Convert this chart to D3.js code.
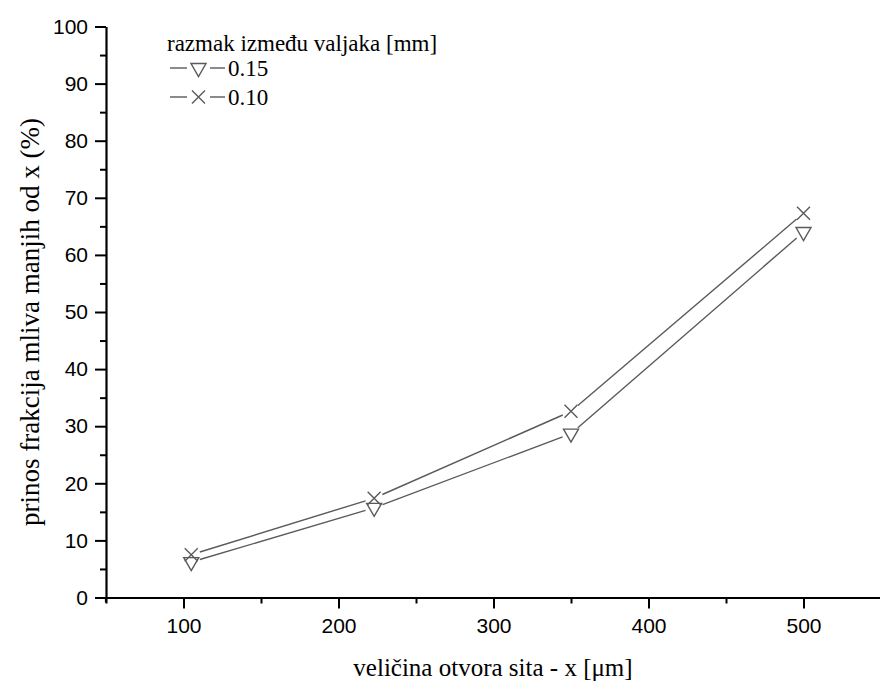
<!DOCTYPE html>
<html>
<head>
<meta charset="utf-8">
<script src="https://cdn.jsdelivr.net/npm/d3@7"></script>
<style>
  body { margin: 0; background: #fff; }
</style>
</head>
<body>
<div id="chart"></div>
<script>
// data
var xValues = [105, 223, 350, 500];
var y015 = [6.2, 15.7, 28.7, 64.0];
var y010 = [7.5, 17.4, 32.6, 67.3];
var seriesNames = ["0.15", "0.10"];
var xTicks = [100, 200, 300, 400, 500];
var yTicks = [0, 10, 20, 30, 40, 50, 60, 70, 80, 90, 100];

var width = 880, height = 683;
var margin = {left: 106, top: 26.5, right: -1, bottom: 85.5};
var grey = "#5a5a5a";
var serif = "'Liberation Serif', 'DejaVu Serif', serif";
var sans = "'Liberation Sans', Arial, sans-serif";

var svg = d3.select("#chart").append("svg")
  .attr("width", width)
  .attr("height", height);

var x = d3.scaleLinear().domain([50, 550]).range([margin.left, width - margin.right]);
var y = d3.scaleLinear().domain([0, 100]).range([height - margin.bottom, margin.top]);

// minor ticks first
var xMinor = d3.axisBottom(x).tickValues(d3.range(50, 551, 100)).tickSize(6).tickFormat("");
var yMinor = d3.axisLeft(y).tickValues(d3.range(5, 100, 10)).tickSize(6).tickFormat("");

svg.append("g").attr("transform", "translate(0," + y(0) + ")").call(xMinor)
  .call(function(g){ g.select(".domain").remove(); })
  .selectAll("line").attr("stroke-width", 2);
svg.append("g").attr("transform", "translate(" + x(50) + ",0)").call(yMinor)
  .call(function(g){ g.select(".domain").remove(); })
  .selectAll("line").attr("stroke-width", 2);

var xAxis = svg.append("g")
  .attr("transform", "translate(0," + y(0) + ")")
  .call(d3.axisBottom(x).tickValues(xTicks).tickSize(11).tickSizeOuter(0).tickPadding(10));
var yAxis = svg.append("g")
  .attr("transform", "translate(" + x(50) + ",0)")
  .call(d3.axisLeft(y).tickValues(yTicks).tickSize(11).tickSizeOuter(0).tickPadding(7));

[xAxis, yAxis].forEach(function(g){
  g.attr("font-family", sans).attr("font-size", 21);
  g.select(".domain").attr("stroke-width", 2.2);
  g.selectAll(".tick line").attr("stroke-width", 2);
  g.selectAll(".tick text").attr("fill", "#000");
});
// y axis reaches a little below the x axis
svg.append("line")
  .attr("x1", x(50)).attr("x2", x(50))
  .attr("y1", y(0)).attr("y2", y(0) + 5)
  .attr("stroke", "#000").attr("stroke-width", 2.2);

// axis titles
svg.append("text")
  .attr("font-family", serif).attr("font-size", 25)
  .attr("x", 493).attr("y", 676)
  .attr("text-anchor", "middle")
  .text("veličina otvora sita - x [μm]");
svg.append("text")
  .attr("font-family", serif).attr("font-size", 27)
  .attr("transform", "translate(39,322) rotate(-90)")
  .attr("text-anchor", "middle")
  .text("prinos frakcija mliva manjih od x (%)");

// lines with small gaps next to the markers
function drawSeries(vals, gap) {
  var pts = xValues.map(function(d, i){ return [x(d), y(vals[i])]; });
  for (var i = 0; i < pts.length - 1; i++) {
    var a = pts[i], b = pts[i + 1];
    var dx = b[0] - a[0], dy = b[1] - a[1];
    var len = Math.sqrt(dx * dx + dy * dy);
    var ux = dx / len, uy = dy / len;
    svg.append("line")
      .attr("x1", a[0] + ux * gap).attr("y1", a[1] + uy * gap)
      .attr("x2", b[0] - ux * gap).attr("y2", b[1] - uy * gap)
      .attr("stroke", grey).attr("stroke-width", 1.4);
  }
  return pts;
}

function triDown(g, cx, cy) {
  g.append("path")
    .attr("d", "M" + (cx - 7.5) + "," + (cy - 4.5) + "L" + (cx + 7.5) + "," + (cy - 4.5) + "L" + cx + "," + (cy + 8.5) + "Z")
    .attr("fill", "none").attr("stroke", grey).attr("stroke-width", 1.4);
}
function cross(g, cx, cy) {
  g.append("path")
    .attr("d", "M" + (cx - 6.5) + "," + (cy - 6.5) + "L" + (cx + 6.5) + "," + (cy + 6.5) +
               "M" + (cx - 6.5) + "," + (cy + 6.5) + "L" + (cx + 6.5) + "," + (cy - 6.5))
    .attr("fill", "none").attr("stroke", grey).attr("stroke-width", 1.4);
}

var p015 = drawSeries(y015, 9);
var p010 = drawSeries(y010, 9);
p015.forEach(function(p){ triDown(svg, p[0], p[1]); });
p010.forEach(function(p){ cross(svg, p[0], p[1]); });

// legend
var lg = svg.append("g").attr("font-family", serif).attr("font-size", 23);
lg.append("text")
  .attr("x", 167).attr("y", 51)
  .text("razmak između valjaka [mm]");
var rows = [{name: seriesNames[0], mark: triDown, cy: 68}, {name: seriesNames[1], mark: cross, cy: 97}];
rows.forEach(function(r){
  lg.append("line").attr("x1", 170).attr("x2", 187).attr("y1", r.cy).attr("y2", r.cy)
    .attr("stroke", grey).attr("stroke-width", 1.4);
  lg.append("line").attr("x1", 210).attr("x2", 225).attr("y1", r.cy).attr("y2", r.cy)
    .attr("stroke", grey).attr("stroke-width", 1.4);
  r.mark(lg, 198.5, r.cy);
  lg.append("text")
    .attr("x", 228).attr("y", r.cy + 8)
    .text(r.name);
});
</script>
</body>
</html>
